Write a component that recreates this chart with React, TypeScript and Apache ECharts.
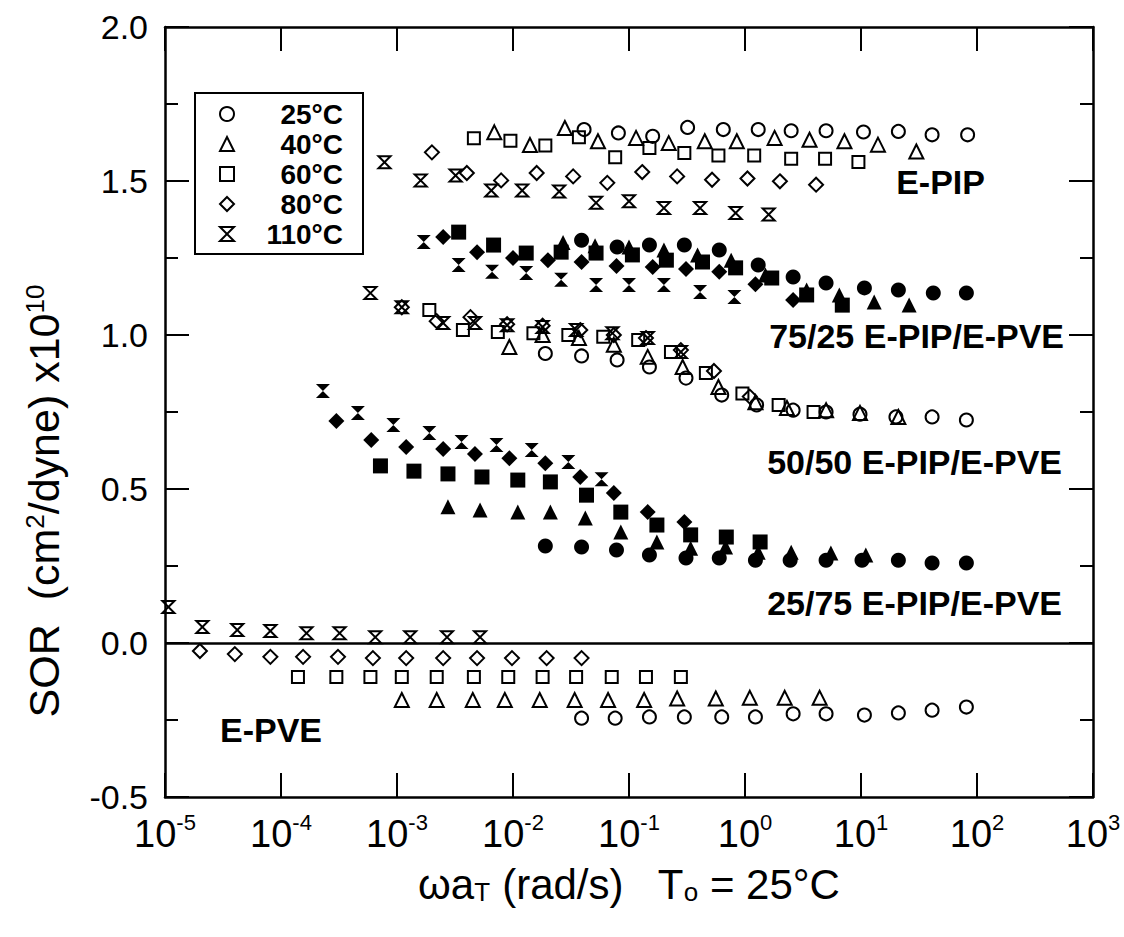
import React, { useEffect, useRef } from 'react';
import * as echarts from 'echarts';

const HOURGLASS = 'path://M0,0L10,0L0,10L10,10Z';

const temps = ['25°C', '40°C', '60°C', '80°C', '110°C'];
const xTickExps = [-5, -4, -3, -2, -1, 0, 1, 2, 3];
const yTicks = [-0.5, 0, 0.5, 1, 1.5, 2];

// ---- E-PIP (open symbols)
const EPIP_25: [number, number][] = [[4.1e-2,1.667],[8.1e-2,1.656],[1.6e-1,1.645],[3.2e-1,1.674],[6.5e-1,1.667],[1.3,1.667],[2.5,1.663],[5.0,1.663],[10.5,1.659],[21,1.661],[41,1.65],[83,1.65]];
const EPIP_40: [number, number][] = [[6.9e-3,1.658],[1.4e-2,1.617],[2.8e-2,1.672],[5.4e-2,1.629],[1.15e-1,1.64],[2.2e-1,1.623],[4.5e-1,1.629],[8.5e-1,1.629],[1.8,1.64],[3.6,1.634],[7.2,1.629],[14,1.618],[30,1.596]];
const EPIP_60: [number, number][] = [[4.6e-3,1.639],[9.5e-3,1.631],[1.9e-2,1.615],[3.7e-2,1.642],[7.6e-2,1.577],[1.5e-1,1.607],[3.0e-1,1.591],[5.9e-1,1.583],[1.2,1.583],[2.5,1.572],[4.9,1.572],[9.5,1.562]];
const EPIP_80: [number, number][] = [[2.0e-3,1.593],[4.0e-3,1.526],[7.9e-3,1.502],[1.6e-2,1.526],[3.3e-2,1.515],[6.5e-2,1.494],[1.3e-1,1.529],[2.6e-1,1.515],[5.2e-1,1.504],[1.05,1.508],[2.0,1.499],[4.1,1.488]];
const EPIP_110: [number, number][] = [[7.8e-4,1.561],[1.6e-3,1.502],[3.2e-3,1.518],[6.5e-3,1.469],[1.2e-2,1.469],[2.5e-2,1.466],[5.2e-2,1.429],[1.0e-1,1.434],[2.0e-1,1.412],[4.1e-1,1.412],[8.3e-1,1.396],[1.6,1.391]];

// ---- 75/25 E-PIP/E-PVE (filled symbols)
const B7525_25: [number, number][] = [[3.9e-2,1.308],[7.9e-2,1.286],[1.5e-1,1.292],[3.0e-1,1.292],[6.0e-1,1.276],[1.3,1.227],[2.6,1.188],[5.0,1.169],[10.7,1.153],[21,1.146],[42,1.136],[81,1.136]];
const B7525_40: [number, number][] = [[2.7e-2,1.3],[5.1e-2,1.29],[1.0e-1,1.286],[2.0e-1,1.276],[3.9e-1,1.26],[7.6e-1,1.243],[1.5,1.195],[3.4,1.146],[6.5,1.13],[13,1.107],[26,1.097]];
const B7525_60: [number, number][] = [[3.4e-3,1.334],[6.8e-3,1.292],[1.3e-2,1.266],[2.6e-2,1.269],[5.2e-2,1.266],[1.07e-1,1.26],[2.1e-1,1.243],[4.3e-1,1.237],[8.3e-1,1.218],[1.7,1.185],[3.4,1.13],[6.9,1.097]];
const B7525_80: [number, number][] = [[2.5e-3,1.318],[4.9e-3,1.269],[1.0e-2,1.25],[2.0e-2,1.243],[3.9e-2,1.237],[7.8e-2,1.224],[1.6e-1,1.221],[3.1e-1,1.214],[6.0e-1,1.205],[1.23,1.165],[2.6,1.114]];
const B7525_110: [number, number][] = [[1.7e-3,1.302],[3.4e-3,1.227],[6.6e-3,1.205],[1.3e-2,1.201],[2.6e-2,1.179],[5.2e-2,1.162],[1.0e-1,1.162],[2.0e-1,1.162],[4.1e-1,1.14],[8.1e-1,1.123]];

// ---- 50/50 E-PIP/E-PVE (open symbols)
const B5050_25: [number, number][] = [[1.9e-2,0.94],[3.9e-2,0.932],[7.9e-2,0.919],[1.5e-1,0.896],[3.1e-1,0.86],[6.3e-1,0.805],[1.26,0.773],[2.6,0.756],[5.0,0.75],[9.8,0.743],[20,0.734],[41,0.734],[81,0.724]];
const B5050_40: [number, number][] = [[9.3e-3,0.961],[1.8e-2,1.0],[3.7e-2,0.99],[7.4e-2,0.968],[1.45e-1,0.929],[2.9e-1,0.896],[5.9e-1,0.831],[1.23,0.782],[2.3,0.763],[5.0,0.756],[9.8,0.747],[21,0.734]];
const B5050_60: [number, number][] = [[1.9e-3,1.081],[3.7e-3,1.016],[7.4e-3,1.01],[1.5e-2,1.006],[3.0e-2,1.0],[6.0e-2,0.994],[1.2e-1,0.984],[2.3e-1,0.945],[4.6e-1,0.877],[9.5e-1,0.81],[1.95,0.773],[3.9,0.75]];
const B5050_80: [number, number][] = [[1.1e-3,1.09],[2.2e-3,1.045],[4.3e-3,1.058],[8.9e-3,1.035],[1.8e-2,1.03],[3.8e-2,1.016],[7.4e-2,1.0],[1.4e-1,0.99],[2.8e-1,0.951],[5.4e-1,0.883],[1.1,0.8]];
const B5050_110: [number, number][] = [[5.9e-4,1.136],[1.1e-3,1.09],[2.5e-3,1.039],[4.7e-3,1.039],[8.9e-3,1.032],[1.8e-2,1.026],[3.5e-2,1.016],[7.2e-2,1.006],[1.45e-1,0.99],[2.8e-1,0.945]];

// ---- 25/75 E-PIP/E-PVE (filled symbols)
const B2575_25: [number, number][] = [[1.9e-2,0.315],[3.9e-2,0.312],[7.8e-2,0.302],[1.5e-1,0.286],[3.1e-1,0.276],[6.0e-1,0.276],[1.23,0.269],[2.45,0.269],[5.0,0.269],[10.2,0.269],[21,0.269],[41,0.26],[81,0.26]];
const B2575_40: [number, number][] = [[2.75e-3,0.442],[5.2e-3,0.432],[1.1e-2,0.425],[2.1e-2,0.425],[4.2e-2,0.406],[8.5e-2,0.36],[1.74e-1,0.328],[3.4e-1,0.308],[6.8e-1,0.312],[1.3,0.295],[2.5,0.295],[5.5,0.292],[11,0.286]];
const B2575_60: [number, number][] = [[7.2e-4,0.575],[1.4e-3,0.558],[2.75e-3,0.549],[5.4e-3,0.539],[1.1e-2,0.529],[2.1e-2,0.523],[4.3e-2,0.48],[8.5e-2,0.425],[1.74e-1,0.383],[3.4e-1,0.351],[6.9e-1,0.344],[1.35,0.328]];
const B2575_80: [number, number][] = [[3.0e-4,0.721],[6.0e-4,0.659],[1.2e-3,0.636],[2.5e-3,0.63],[4.7e-3,0.614],[9.3e-3,0.6],[1.9e-2,0.584],[3.8e-2,0.539],[7.4e-2,0.487],[1.45e-1,0.425],[3.0e-1,0.393]];
const B2575_110: [number, number][] = [[2.3e-4,0.818],[4.6e-4,0.747],[9.3e-4,0.708],[1.9e-3,0.682],[3.6e-3,0.653],[7.2e-3,0.643],[1.45e-2,0.627],[3.0e-2,0.588],[5.8e-2,0.532]];

// ---- E-PVE (open symbols)
const EPVE_25: [number, number][] = [[3.9e-2,-0.244],[7.6e-2,-0.244],[1.5e-1,-0.24],[3.0e-1,-0.24],[6.3e-1,-0.24],[1.23,-0.24],[2.6,-0.23],[5.0,-0.23],[10.7,-0.234],[21,-0.227],[41,-0.218],[81,-0.208]];
const EPVE_40: [number, number][] = [[1.1e-3,-0.185],[2.2e-3,-0.185],[4.5e-3,-0.185],[8.5e-3,-0.185],[1.7e-2,-0.185],[3.4e-2,-0.185],[6.6e-2,-0.185],[1.35e-1,-0.185],[2.6e-1,-0.18],[5.6e-1,-0.18],[1.1,-0.178],[2.2,-0.178],[4.4,-0.178]];
const EPVE_60: [number, number][] = [[1.4e-4,-0.11],[3.0e-4,-0.11],[5.9e-4,-0.11],[1.1e-3,-0.11],[2.2e-3,-0.11],[4.6e-3,-0.11],[9.1e-3,-0.11],[1.8e-2,-0.11],[3.5e-2,-0.11],[7.1e-2,-0.11],[1.4e-1,-0.11],[2.8e-1,-0.11]];
const EPVE_80: [number, number][] = [[2.0e-5,-0.026],[4.0e-5,-0.036],[8.1e-5,-0.045],[1.55e-4,-0.045],[3.1e-4,-0.045],[6.2e-4,-0.049],[1.2e-3,-0.049],[2.5e-3,-0.049],[4.9e-3,-0.049],[9.8e-3,-0.049],[1.95e-2,-0.049],[3.9e-2,-0.049]];
const EPVE_110: [number, number][] = [[1.07e-5,0.117],[2.1e-5,0.052],[4.2e-5,0.042],[8.1e-5,0.039],[1.66e-4,0.032],[3.2e-4,0.032],[6.5e-4,0.019],[1.3e-3,0.019],[2.7e-3,0.019],[5.2e-3,0.019]];

const symbolsByTemp = ['circle', 'triangle', 'rect', 'diamond', HOURGLASS];
const openSizes = [13, 14, 12, 14, 12];
const filledSizes = [15, 15, 15, 16, 14];

const groups: { data: [number, number][][]; filled: boolean }[] = [
  { data: [EPIP_25, EPIP_40, EPIP_60, EPIP_80, EPIP_110], filled: false },
  { data: [B7525_25, B7525_40, B7525_60, B7525_80, B7525_110], filled: true },
  { data: [B5050_25, B5050_40, B5050_60, B5050_80, B5050_110], filled: false },
  { data: [B2575_25, B2575_40, B2575_60, B2575_80, B2575_110], filled: true },
  { data: [EPVE_25, EPVE_40, EPVE_60, EPVE_80, EPVE_110], filled: false },
];

const SANS = "'Liberation Sans', Arial, Helvetica, sans-serif";

export default function App() {
  const ref = useRef<HTMLDivElement>(null);
  useEffect(() => {
    if (!ref.current) return;
    const chart = echarts.init(ref.current, undefined, { renderer: 'svg' });
    const series: any[] = [];
    groups.forEach((g) => {
      g.data.forEach((d, ti) => {
        series.push({
          type: 'scatter',
          name: temps[ti],
          xAxisIndex: 0,
          yAxisIndex: 0,
          data: d,
          symbol: symbolsByTemp[ti],
          symbolSize: g.filled ? filledSizes[ti] : openSizes[ti],
          itemStyle: g.filled
            ? { color: '#000', borderColor: '#000', borderWidth: 0, opacity: 1 }
            : { color: 'rgba(255,255,255,0)', borderColor: '#000', borderWidth: 2, opacity: 1 },
          emphasis: { disabled: true },
          z: g.filled ? 2 : 3,
        });
      });
    });
    series[0].markLine = {
      silent: true,
      symbol: 'none',
      label: { show: false },
      lineStyle: { color: '#000', width: 2.5, type: 'solid', opacity: 1 },
      data: [{ yAxis: 0 }],
    };

    const tickLine = { show: true, inside: true, length: 24, lineStyle: { color: '#000', width: 2 } };
    const minor = { show: true, splitNumber: 2, length: 13, lineStyle: { color: '#000', width: 2 } };

    const option: any = {
      animation: false,
      backgroundColor: '#fff',
      grid: { left: 165, right: 31, top: 27, bottom: 140, containLabel: false },
      legend: {
        data: temps,
        orient: 'vertical',
        left: 195,
        top: 93,
        itemWidth: 14,
        itemHeight: 14,
        itemGap: 2,
        itemTextGap: 8,
        padding: [7, 20, 6, 24],
        borderColor: '#000',
        borderWidth: 2,
        backgroundColor: '#fff',
        selectedMode: false,
        formatter: (n: string) => `{r|${n}}`,
        textStyle: {
          rich: {
            r: { width: 104, align: 'right', fontSize: 28, fontWeight: 'bold', fontFamily: SANS, color: '#000', lineHeight: 28 },
          },
        },
      },
      xAxis: [
        {
          type: 'log',
          logBase: 10,
          min: Math.pow(10, xTickExps[0]),
          max: Math.pow(10, xTickExps[xTickExps.length - 1]),
          splitNumber: xTickExps.length - 1,
          position: 'bottom',
          axisLine: { show: true, onZero: false, lineStyle: { color: '#000', width: 2.5 } },
          axisTick: tickLine,
          minorTick: { show: false },
          splitLine: { show: false },
          axisLabel: {
            margin: 14,
            formatter: (v: number) => `{b|10}{s|${Math.round(Math.log10(v))}}`,
            rich: {
              b: { fontSize: 38, fontFamily: SANS, color: '#000', lineHeight: 42, verticalAlign: 'bottom' },
              s: { fontSize: 22, fontFamily: SANS, color: '#000', lineHeight: 42, verticalAlign: 'top' },
            },
          },
          name: 'ωa{sub|T} (rad/s)   T{sub|o} = 25°C',
          nameLocation: 'middle',
          nameGap: 66,
          nameTextStyle: {
            fontSize: 42,
            fontFamily: SANS,
            color: '#000',
            rich: {
              sub: { fontSize: 26, fontFamily: SANS, color: '#000', verticalAlign: 'bottom', padding: [16, 0, 0, 0] },
            },
          },
        },
        {
          type: 'log',
          logBase: 10,
          min: Math.pow(10, xTickExps[0]),
          max: Math.pow(10, xTickExps[xTickExps.length - 1]),
          splitNumber: xTickExps.length - 1,
          position: 'top',
          axisLine: { show: true, onZero: false, lineStyle: { color: '#000', width: 2.5 } },
          axisTick: tickLine,
          axisLabel: { show: false },
          splitLine: { show: false },
        },
      ],
      yAxis: [
        {
          type: 'value',
          min: yTicks[0],
          max: yTicks[yTicks.length - 1],
          interval: 0.5,
          position: 'left',
          axisLine: { show: true, onZero: false, lineStyle: { color: '#000', width: 2.5 } },
          axisTick: tickLine,
          minorTick: minor,
          splitLine: { show: false },
          axisLabel: {
            margin: 17,
            fontSize: 34,
            fontFamily: SANS,
            color: '#000',
            formatter: (v: number) => v.toFixed(1),
          },
          name: 'SOR  (cm{sup|2}/dyne) x10{sup|10}',
          nameLocation: 'middle',
          nameRotate: 90,
          nameGap: 100,
          nameTextStyle: {
            fontSize: 43,
            fontFamily: SANS,
            color: '#000',
            padding: [0, 178, 0, 0],
            rich: {
              sup: { fontSize: 26, fontFamily: SANS, color: '#000', verticalAlign: 'top', padding: [0, 0, 16, 0] },
            },
          },
        },
        {
          type: 'value',
          min: yTicks[0],
          max: yTicks[yTicks.length - 1],
          interval: 0.5,
          position: 'right',
          axisLine: { show: true, onZero: false, lineStyle: { color: '#000', width: 2.5 } },
          axisTick: tickLine,
          minorTick: minor,
          splitLine: { show: false },
          axisLabel: { show: false },
        },
      ],
      graphic: [
        { type: 'text', x: 985, y: 182, style: { text: 'E-PIP', fontSize: 34, fontWeight: 'bold', fontFamily: SANS, fill: '#000', align: 'right', verticalAlign: 'middle' } },
        { type: 'text', x: 1064, y: 336, style: { text: '75/25 E-PIP/E-PVE', fontSize: 34, fontWeight: 'bold', fontFamily: SANS, fill: '#000', align: 'right', verticalAlign: 'middle' } },
        { type: 'text', x: 1062, y: 462, style: { text: '50/50 E-PIP/E-PVE', fontSize: 34, fontWeight: 'bold', fontFamily: SANS, fill: '#000', align: 'right', verticalAlign: 'middle' } },
        { type: 'text', x: 1062, y: 603, style: { text: '25/75 E-PIP/E-PVE', fontSize: 34, fontWeight: 'bold', fontFamily: SANS, fill: '#000', align: 'right', verticalAlign: 'middle' } },
        { type: 'text', x: 220, y: 730, style: { text: 'E-PVE', fontSize: 34, fontWeight: 'bold', fontFamily: SANS, fill: '#000', align: 'left', verticalAlign: 'middle' } },
      ],
      series,
    };
    chart.setOption(option);
    return () => chart.dispose();
  }, []);
  return <div ref={ref} style={{ position: 'absolute', left: 0, top: 0, width: 1124, height: 937 }} />;
}
